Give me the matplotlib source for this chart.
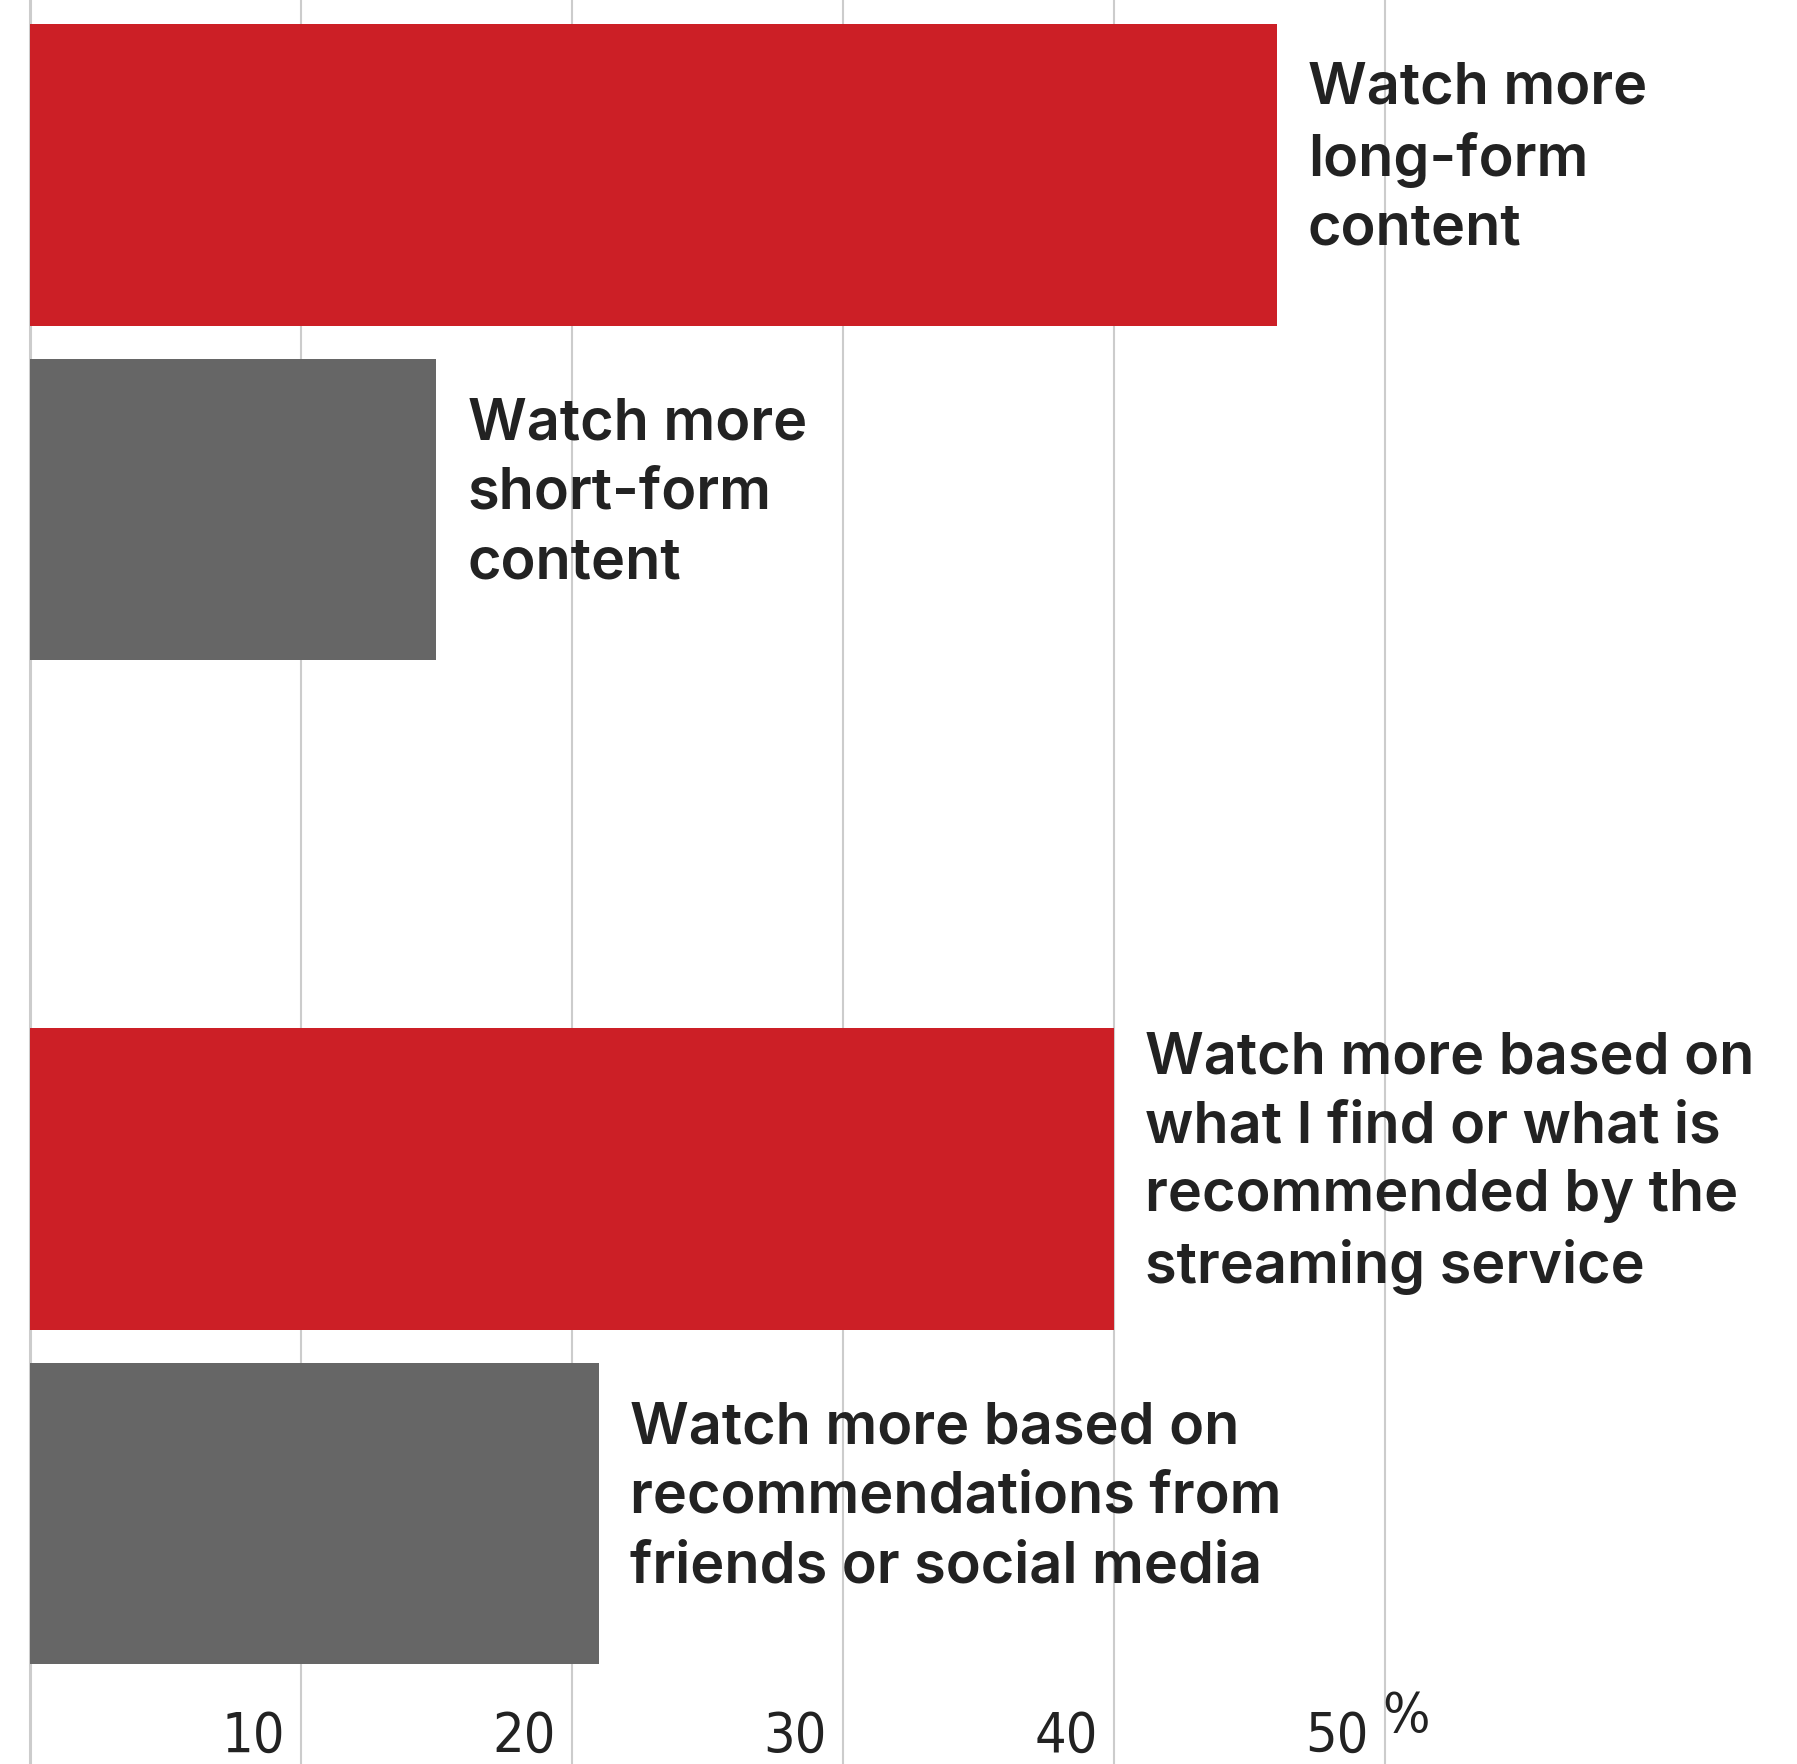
import matplotlib
matplotlib.use("Agg")
import matplotlib.pyplot as plt

# values (%)
labels = ["Watch more\nlong-form\ncontent",
          "Watch more\nshort-form\ncontent",
          "Watch more based on\nwhat I find or what is\nrecommended by the\nstreaming service",
          "Watch more based on\nrecommendations from\nfriends or social media"]
values = [46, 15, 40, 21]
slots = [0, 1, 3, 4]
bar_colors = ["#cc1f26", "#666666", "#cc1f26", "#666666"]
ticks = [10, 20, 30, 40, 50]

fig = plt.figure(figsize=(17.97, 17.65), dpi=100)
ax = fig.add_axes([0, 0, 1, 1])

ax.barh(slots, values, height=0.9, color=bar_colors, zorder=2)

for t in ticks:
    ax.axvline(t, color="#cccccc", linewidth=1.5, zorder=1)
ax.axvline(0, color="#cccccc", linewidth=2.2, zorder=1)

ax.set_xlim(-1.1, 65.2)
ax.set_ylim(4.748, -0.526)
ax.axis("off")

for s, v, lab in zip(slots, values, labels):
    ax.text(v + 1.15, s - 0.05, lab, ha="left", va="center",
            fontsize=41.5, family="Inter", fontweight="semibold",
            color="#222222", linespacing=1.36, zorder=3)

for t in ticks:
    ax.text(t - 0.6, 4.663, str(t), ha="right", va="center",
            fontsize=40, family="DejaVu Sans", fontstretch="condensed",
            fontweight="light", color="#222222", zorder=3)
ax.text(50 - 0.1, 4.605, "%", ha="left", va="center",
        fontsize=40, family="DejaVu Sans", fontstretch="condensed",
        color="#222222", zorder=3)

fig.savefig("out.png", dpi=100, facecolor="white")
